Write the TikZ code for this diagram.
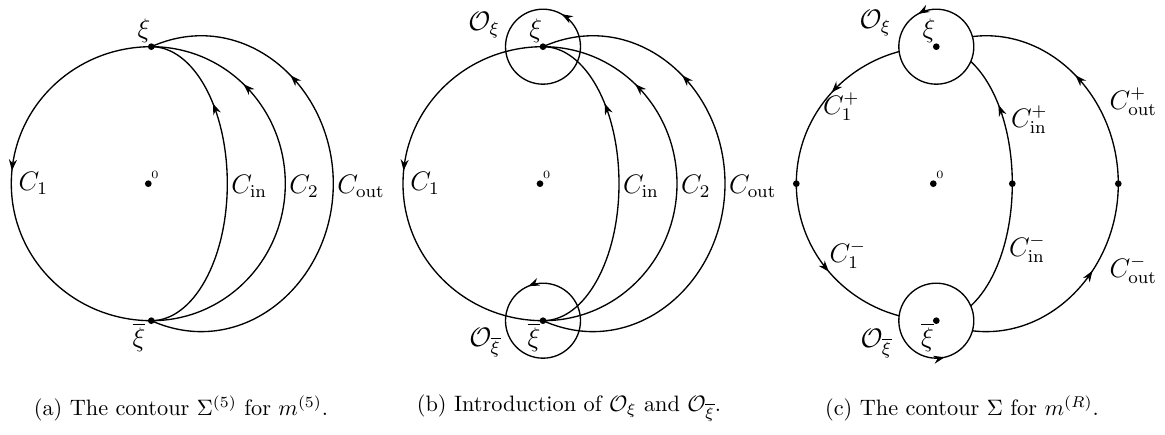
\documentclass[tikz,border=0pt]{standalone}
\usetikzlibrary{positioning,calc,arrows.meta,decorations.markings}

\begin{document}
\begin{tikzpicture}[
% first : the style of the scheme
    x=0.4484pt, y=0.4484pt,
    line width=0.6pt,
    lab/.style={inner sep=1pt, font=\large},
    arrowat/.style={
        postaction={decorate},
        decoration={markings,
            mark=at position #1 with {\arrow{Stealth[length=5pt,width=3.6pt]}}}
    }
]
\useasboundingbox (0,0) rectangle (1165,435);

% (a) : the contour Sigma^(5)
\begin{scope}[shift={(148.3,251.3)}]
\coordinate (a0) at (0,0);
\coordinate (axi) at (3,137);
\coordinate (axib) at (3,-137);
\coordinate (aone) at (-137,0);
\coordinate (ain) at (79,0);
\coordinate (atwo) at (137,0);
\coordinate (aout) at (185,0);

% contours
\draw[arrowat=0.47] (axi) to[out=180,in=90] (aone) to[out=-90,in=180] (axib);
\draw[arrowat=0.74] (axib) .. controls +(42,0) and +(0,-76) .. (ain) .. controls +(0,76) and +(42,0) .. (axi);
\draw[arrowat=0.76] (axib) to[out=0,in=-90] (atwo) to[out=90,in=0] (axi);
\draw[arrowat=0.72] (axib) to[out=-24,in=-90,looseness=1.12] (aout) to[out=90,in=24,looseness=1.12] (axi);

% points + text
\fill (a0) circle (1.5pt) (axi) circle (1.5pt) (axib) circle (1.5pt);
\node[inner sep=1pt, above right=1pt and 0pt of a0, font=\tiny] (a0lab) {0};
\node[lab, above=0.4pt of axi, xshift=-3.3pt] (axilab) {$\xi$};
\node[lab, below=0pt of axib, xshift=-5.5pt] (axiblab) {$\overline{\xi}$};
\node[lab, right=2pt of aone] (aonelab) {$C_1$};
\node[lab, right=0.5pt of ain, yshift=-1pt] (ainlab) {$C_{\mathrm{in}}$};
\node[lab, right=0.5pt of atwo, yshift=-1pt] (atwolab) {$C_2$};
\node[lab, right=0.5pt of aout, yshift=-1pt] (aoutlab) {$C_{\mathrm{out}}$};
\end{scope}

% (b) : the small circles round xi and xibar
\begin{scope}[shift={(540,251.3)}]
\coordinate (b0) at (0,0);
\coordinate (bxi) at (3,137);
\coordinate (bxib) at (3,-137);
\coordinate (bone) at (-137,0);
\coordinate (bin) at (79,0);
\coordinate (btwo) at (137,0);
\coordinate (bout) at (185,0);

% contours
\draw[arrowat=0.47] (bxi) to[out=180,in=90] (bone) to[out=-90,in=180] (bxib);
\draw[arrowat=0.74] (bxib) .. controls +(42,0) and +(0,-76) .. (bin) .. controls +(0,76) and +(42,0) .. (bxi);
\draw[arrowat=0.76] (bxib) to[out=0,in=-90] (btwo) to[out=90,in=0] (bxi);
\draw[arrowat=0.72] (bxib) to[out=-24,in=-90,looseness=1.12] (bout) to[out=90,in=24,looseness=1.12] (bxi);

% small circles
\draw[arrowat=0.167] ($(bxi)+(37.5,0)$) arc[start angle=0, end angle=360, radius=37.5];
\draw[arrowat=0.314] ($(bxib)+(37.5,0)$) arc[start angle=0, end angle=360, radius=37.5];

% points + text
\fill (b0) circle (1.5pt) (bxi) circle (1.5pt) (bxib) circle (1.5pt);
\node[inner sep=1pt, above right=1pt and 0pt of b0, font=\tiny] (b0lab) {0};
\node[lab, above=0.4pt of bxi, xshift=-3.3pt] (bxilab) {$\xi$};
\node[lab, below=0pt of bxib, xshift=-4pt] (bxiblab) {$\overline{\xi}$};
\node[lab] (boxilab) at (-56,159) {$\mathcal{O}_\xi$};
\node[lab] (boxiblab) at (-55,-159) {$\mathcal{O}_{\overline{\xi}}$};
\node[lab, right=2pt of bone] (bonelab) {$C_1$};
\node[lab, right=0.5pt of bin, yshift=-1pt] (binlab) {$C_{\mathrm{in}}$};
\node[lab, right=0.5pt of btwo, yshift=-1pt] (btwolab) {$C_2$};
\node[lab, right=0.5pt of bout, yshift=-1pt] (boutlab) {$C_{\mathrm{out}}$};
\end{scope}

% (c) : the contour Sigma
\begin{scope}[shift={(933.3,251.3)}]
\coordinate (c0) at (0,0);
\coordinate (cxi) at (3,137);
\coordinate (cxib) at (3,-137);
\coordinate (cone) at (-137,0);
\coordinate (cin) at (79,0);
\coordinate (cout) at (185,0);

% contours
\draw[arrowat=0.54] (cxi) to[out=180,in=90] (cone);
\draw[arrowat=0.44] (cone) to[out=-90,in=180] (cxib);
\draw (cxib) .. controls +(42,0) and +(0,-76) .. (cin);
\draw[arrowat=0.47] (cin) .. controls +(0,76) and +(42,0) .. (cxi);
\draw[arrowat=0.66] (cxib) to[out=-24,in=-90,looseness=1.12] (cout);
\draw[arrowat=0.44] (cout) to[out=90,in=24,looseness=1.12] (cxi);

% small circles
\filldraw[fill=white, arrowat=0.33] ($(cxi)+(37.5,0)$) arc[start angle=0, end angle=360, radius=37.5];
\filldraw[fill=white, arrowat=0.786] ($(cxib)+(37.5,0)$) arc[start angle=0, end angle=360, radius=37.5];

% points + text
\fill (c0) circle (1.5pt) (cxi) circle (1.5pt) (cxib) circle (1.5pt)
      (cone) circle (1.5pt) (cin) circle (1.5pt) (cout) circle (1.5pt);
\node[inner sep=1pt, above right=1pt and 0pt of c0, font=\tiny] (c0lab) {0};
\node[lab, above=0.4pt of cxi, xshift=-3.3pt] (cxilab) {$\xi$};
\node[lab, below=0pt of cxib, xshift=-4pt] (cxiblab) {$\overline{\xi}$};
\node[lab] (coxilab) at (-58,161) {$\mathcal{O}_\xi$};
\node[lab] (coxiblab) at (-57,-160) {$\mathcal{O}_{\overline{\xi}}$};
\node[lab] (conep) at (-92,77) {$C_1^+$};
\node[lab] (conem) at (-85.5,-71) {$C_1^-$};
\node[lab] (cinp) at (96,64) {$C_{\mathrm{in}}^+$};
\node[lab] (cinm) at (94,-65) {$C_{\mathrm{in}}^-$};
\node[lab] (coutp) at (200,82) {$C_{\mathrm{out}}^+$};
\node[lab] (coutm) at (200,-86) {$C_{\mathrm{out}}^-$};
\end{scope}

% captions
\node (capa) at (181,27) {(a) The contour $\Sigma^{(5)}$ for $m^{(5)}$.};
\node (capb) at (569,27) {(b) Introduction of $\mathcal{O}_\xi$ and $\mathcal{O}_{\overline{\xi}}$.};
\node (capc) at (962,27) {(c) The contour $\Sigma$ for $m^{(R)}$.};

\end{tikzpicture}
\end{document}
